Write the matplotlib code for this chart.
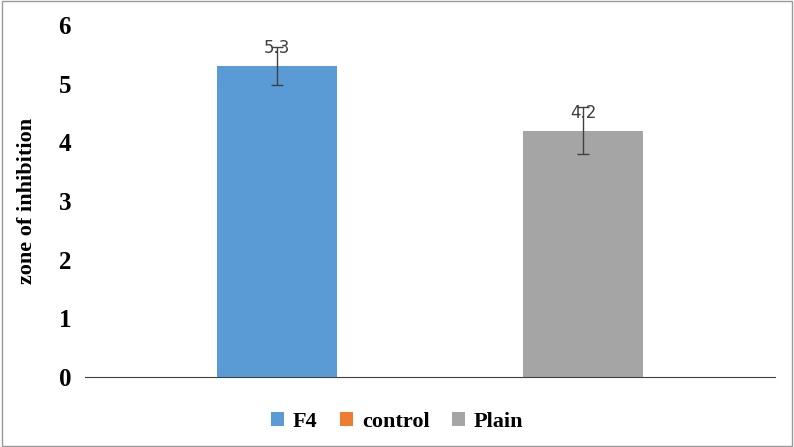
import matplotlib
matplotlib.use("Agg")
import matplotlib.pyplot as plt
import numpy as np

series = ["F4", "control", "Plain"]
values = [5.3, 0.0, 4.2]
errors = [0.32, 0.0, 0.4]
colors = ["#5b9bd5", "#ed7d31", "#a5a5a5"]
yticks = [0, 1, 2, 3, 4, 5, 6]

fig = plt.figure(figsize=(7.94, 4.47), dpi=100)
ax = fig.add_axes([85/794, 1-377/447, 690/794, 352/447])
offsets = [-1, 0, 1]
gap = 153/690
w = 120/690
for s, v, e, c, o in zip(series, values, errors, colors, offsets):
    x = 0.5 + o*gap
    ax.bar(x, v, width=w, color=c, label=s)
    if v > 0:
        ax.errorbar(x, v, yerr=e, color="#404040", capsize=4, lw=1)
        ax.text(x, v + 0.15, f"{v}", ha="center", va="bottom", fontsize=12, color="#404040")
ax.set_xlim(0, 1)
ax.set_ylim(0, 6)
ax.set_yticks(yticks)
ax.set_yticklabels([str(t) for t in yticks], fontfamily="Liberation Serif", fontweight="bold", fontsize=18)
ax.set_xticks([])
ax.tick_params(axis="y", length=0, pad=10)
for sp in ["top", "right"]:
    ax.spines[sp].set_visible(False)
ax.spines["left"].set_visible(False)
ax.spines["bottom"].set_color("#404040")
ax.set_ylabel("zone of inhibition", fontfamily="Liberation Serif", fontweight="bold", fontsize=16)
ax.yaxis.set_label_coords(-0.07, 0.5)
fig.legend(loc="center", bbox_to_anchor=(0.5, 1-422/447), ncol=3, frameon=False,
           prop={"family": "Liberation Serif", "weight": "bold", "size": 16},
           handlelength=0.6, handleheight=0.6, columnspacing=1.0, handletextpad=0.4)
fig.patches.append(plt.Rectangle((0.002, 0.002), 0.996, 0.996, transform=fig.transFigure,
                                 fill=False, edgecolor="#999999", lw=1))
fig.savefig("out.png", dpi=100)
